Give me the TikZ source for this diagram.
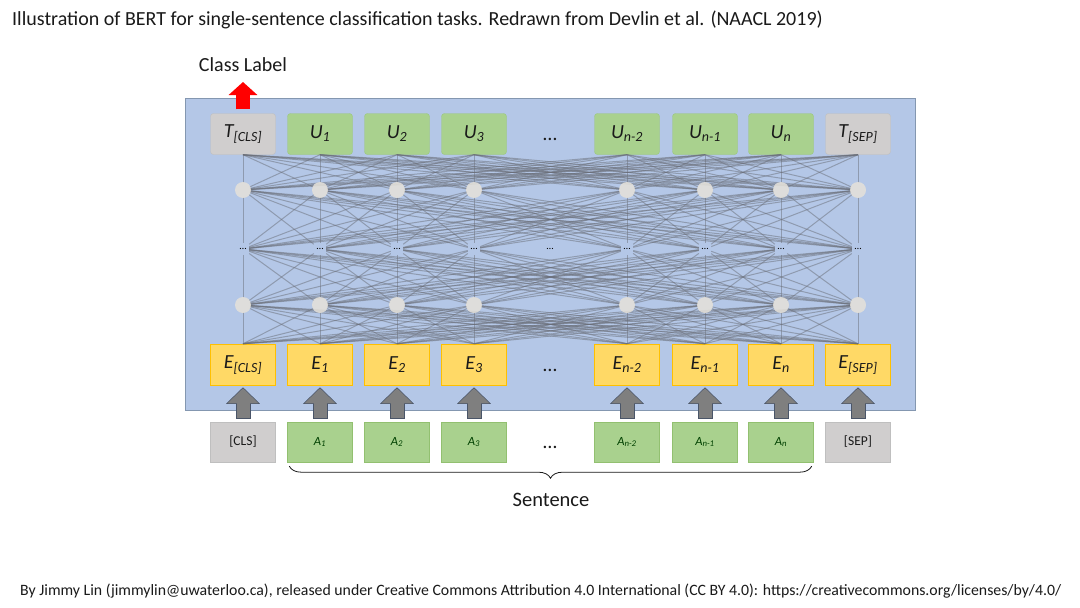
\documentclass[tikz,border=0pt]{standalone}
\usepackage{fontspec}
\setmainfont{Carlito}
\usetikzlibrary{arrows.meta,decorations.pathreplacing,calc}
\definecolor{bluebg}{HTML}{B4C7E7}
\definecolor{blueedge}{HTML}{8497B0}
\definecolor{graybox}{HTML}{D0CECE}
\definecolor{grayedge}{HTML}{BFBFBF}
\definecolor{greenbox}{HTML}{A9D18E}
\definecolor{greenedge}{HTML}{92C070}
\definecolor{orangebox}{HTML}{FFD966}
\definecolor{orangeedge}{HTML}{FFC000}
\definecolor{arrowgray}{HTML}{7F7F7F}
\definecolor{arrowedge}{HTML}{4A5568}
\definecolor{redarrow}{HTML}{FF0000}
\definecolor{netline}{HTML}{6A6E78}
\definecolor{hidfill}{HTML}{E6E2DA}
\definecolor{txt}{HTML}{1A1A1A}
\begin{document}
\begin{tikzpicture}[x=1pt,y=-1pt,
  tok/.style={minimum width=65pt, minimum height=41pt, inner sep=0pt, text=txt,
    font=\fontsize{20}{20}\selectfont\itshape},
  topgray/.style={tok, fill=graybox, draw=grayedge, rounded corners=3pt},
  topgreen/.style={tok, fill=greenbox, draw=greenedge!60!greenbox, rounded corners=3pt},
  embox/.style={tok, fill=orangebox, draw=orangeedge, line width=1.5pt},
  ingray/.style={tok, minimum height=40pt, fill=graybox, draw=grayedge,
    font=\fontsize{13.5}{13.5}\selectfont},
  ingreen/.style={tok, minimum height=40pt, fill=greenbox, draw=greenedge,
    font=\fontsize{12.5}{12.5}\selectfont\itshape, text=black!75!green},
  hid/.style={circle, minimum size=14pt, inner sep=0pt},
  hidshow/.style={circle, minimum size=16pt, inner sep=0pt, fill=hidfill, opacity=0.85},
  dotn/.style={minimum width=12pt, minimum height=12pt, inner sep=0pt,
    font=\fontsize{10}{10}\selectfont, text=black},
  net/.style={draw=netline, line width=1pt, opacity=0.5},
  inarrow/.style={draw=arrowgray, line width=13pt,
    -{Triangle[width=30pt,length=15pt]}, shorten <=4pt, shorten >=2pt},
  inarrowedge/.style={draw=arrowedge, line width=15pt,
    -{Triangle[width=33pt,length=16.5pt]}, shorten <=3pt, shorten >=1pt},
  outarrow/.style={draw=redarrow, line width=14pt,
    -{Triangle[width=28pt,length=13pt]}, shorten <=4pt},
  rowdots/.style={font=\fontsize{20}{20}\selectfont, text=txt},
  plain/.style={text=txt, inner sep=0pt}
]
\useasboundingbox (0,0) rectangle (1080,608);
\fill[white] (0,0) rectangle (1080,608);

% title and footer
\node[plain, anchor=west, font=\fontsize{20}{20}\selectfont] (title) at (12,20)
  {Illustration of BERT for single-sentence classification tasks. Redrawn from Devlin et al. (NAACL 2019)};
\node[plain, anchor=west, font=\fontsize{15.8}{16}\selectfont] (footer) at (20,591)
  {By Jimmy Lin (jimmylin@uwaterloo.ca), released under Creative Commons Attribution 4.0 International (CC BY 4.0): https://creativecommons.org/licenses/by/4.0/};

% BERT body
\node[draw=blueedge, fill=bluebg, line width=0.8pt, minimum width=730pt, minimum height=312pt,
  inner sep=0pt] (bert) at (550,254) {};

% hidden network positions
\foreach \x [count=\i] in {243,320,397,474,627,705,781,858} {
  \node[hid] (c\i) at (\x,190) {};
  \node[dotn] (d\i) at (\x,249) {};
  \node[hid] (g\i) at (\x,305) {};
}

% top row
\node[topgray]  (t1) at (243,134) {T\textsubscript{[CLS]}};
\node[topgreen] (t2) at (320,134) {U\textsubscript{1}};
\node[topgreen] (t3) at (397,134) {U\textsubscript{2}};
\node[topgreen] (t4) at (474,134) {U\textsubscript{3}};
\node[topgreen] (t5) at (627,134) {U\textsubscript{n-2}};
\node[topgreen] (t6) at (705,134) {U\textsubscript{n-1}};
\node[topgreen] (t7) at (781,134) {U\textsubscript{n}};
\node[topgray]  (t8) at (858,134) {T\textsubscript{[SEP]}};
\node[rowdots] (tdots) at (550,139) {…};

% embedding row
\node[embox] (e1) at (243,365) {E\textsubscript{[CLS]}};
\node[embox] (e2) at (320,365) {E\textsubscript{1}};
\node[embox] (e3) at (397,365) {E\textsubscript{2}};
\node[embox] (e4) at (474,365) {E\textsubscript{3}};
\node[embox] (e5) at (627,365) {E\textsubscript{n-2}};
\node[embox] (e6) at (705,365) {E\textsubscript{n-1}};
\node[embox] (e7) at (781,365) {E\textsubscript{n}};
\node[embox] (e8) at (858,365) {E\textsubscript{[SEP]}};
\node[rowdots] (edots) at (550,370) {…};

% network connections
\foreach \i in {1,...,8} {
  \foreach \j in {1,...,8} {
    \draw[net] (t\i.south) -- (c\j);
    \draw[net] (c\i) -- (d\j);
    \draw[net] (d\i) -- (g\j);
    \draw[net] (g\i) -- (e\j.north);
  }
}
\foreach \i in {1,...,8} {
  \node[hidshow] at (c\i) {};
  \node[hidshow] at (g\i) {};
  \node[dotn] at (d\i) {…};
}
\node[dotn] (dmid) at (550,249) {…};

% input row
\node[ingray]  (a1) at (243,442) {[CLS]};
\node[ingreen] (a2) at (320,442) {A\textsubscript{1}};
\node[ingreen] (a3) at (397,442) {A\textsubscript{2}};
\node[ingreen] (a4) at (474,442) {A\textsubscript{3}};
\node[ingreen] (a5) at (627,442) {A\textsubscript{n-2}};
\node[ingreen] (a6) at (705,442) {A\textsubscript{n-1}};
\node[ingreen] (a7) at (781,442) {A\textsubscript{n}};
\node[ingray]  (a8) at (858,442) {[SEP]};
\node[rowdots] (adots) at (550,447) {…};

% input arrows
\foreach \i in {1,...,8} {
  \draw[inarrowedge] (a\i.north) -- (e\i.south);
  \draw[inarrow] (a\i.north) -- (e\i.south);
}

% class label
\node[plain, font=\fontsize{20}{20}\selectfont] (cls) at (243,65) {Class Label};
\coordinate (cltip) at (243,82);
\draw[outarrow] (t1.north) -- (cltip);

% sentence brace
\draw[draw=txt, line width=0.8pt, decorate, decoration={brace, mirror, amplitude=12pt}]
  ($(a2.south west)+(2,4)$) -- ($(a7.south east)+(-2,4)$);
\node[plain, font=\fontsize{20.5}{21}\selectfont] (sent) at (551,500) {Sentence};
\end{tikzpicture}
\end{document}
